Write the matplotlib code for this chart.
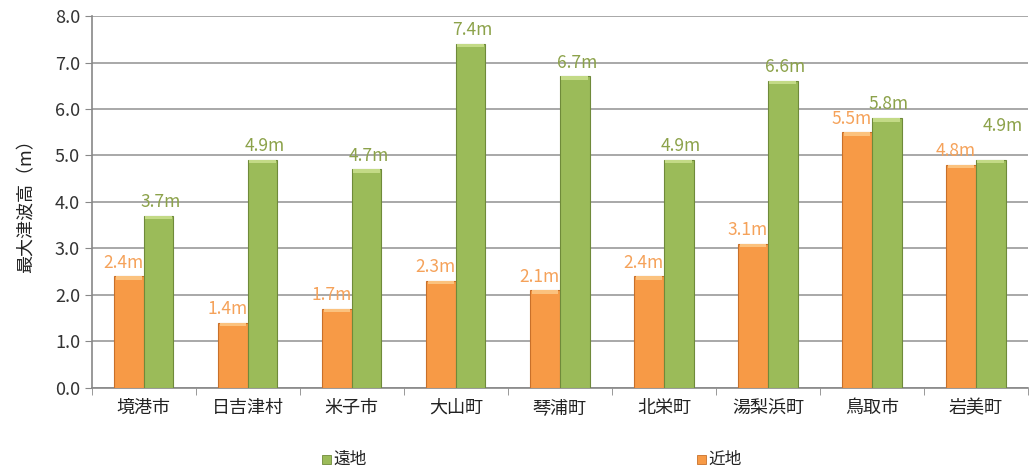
import matplotlib
matplotlib.use("Agg")
import matplotlib.pyplot as plt
import numpy as np
from matplotlib.patches import Rectangle

plt.rcParams['font.family'] = ['Noto Sans CJK JP', 'DejaVu Sans']

categories = ['境港市', '日吉津村', '米子市', '大山町', '琴浦町', '北栄町', '湯梨浜町', '鳥取市', '岩美町']
near = [2.4, 1.4, 1.7, 2.3, 2.1, 2.4, 3.1, 5.5, 4.8]   # 近地
far = [3.7, 4.9, 4.7, 7.4, 6.7, 4.9, 6.6, 5.8, 4.9]    # 遠地
yticks = [0.0, 1.0, 2.0, 3.0, 4.0, 5.0, 6.0, 7.0, 8.0]

c_near = '#F79A46'
c_far = '#9BBB59'
c_near_edge = '#C8702A'
c_far_edge = '#6F8A3A'
c_near_txt = '#F5A25A'
c_far_txt = '#8CA24A'

fig = plt.figure(figsize=(10.32, 4.73), dpi=100)
ax = fig.add_axes([0.089, 0.18, 0.907, 0.786])

x = np.arange(len(categories))
w = 0.285
ax.bar(x - w/2, near, width=w, color=c_near, edgecolor=c_near_edge, linewidth=0.8, zorder=3)
ax.bar(x + w/2, far, width=w, color=c_far, edgecolor=c_far_edge, linewidth=0.8, zorder=3)
# light top bevel
ax.bar(x - w/2, [0.07] * len(near), bottom=np.array(near) - 0.07, width=w * 0.9,
       color='#FBC27E', linewidth=0, zorder=4)
ax.bar(x + w/2, [0.07] * len(far), bottom=np.array(far) - 0.07, width=w * 0.9,
       color='#C3DA86', linewidth=0, zorder=4)

# label layout tweaks (x shift, y offset) for the last group
far_dx = [0.02] * 8 + [0.12]
far_dy = [0.1] * 7 + [0.12, 0.55]

for i in range(len(categories)):
    ax.text(x[i] - w/2 - 0.05, near[i] + 0.1, f'{near[i]}m', color=c_near_txt,
            ha='center', va='bottom', fontsize=12.5, zorder=5)
    ax.text(x[i] + w/2 + far_dx[i], far[i] + far_dy[i], f'{far[i]}m', color=c_far_txt,
            ha='center', va='bottom', fontsize=12.5, zorder=5)

ax.set_xlim(-0.5, len(categories) - 0.5)
ax.set_ylim(0, 8.0)
ax.set_yticks(yticks)
ax.set_yticklabels([f'{v:.1f}' for v in yticks], fontsize=13, color='#333333')
ax.yaxis.grid(True, color='#9a9a9a', linewidth=1.2, zorder=0)
ax.set_axisbelow(True)

ax.set_xticks(x)
ax.set_xticklabels(categories, fontsize=13, color='#222222')
ax.tick_params(axis='x', length=0, pad=8)
ax.set_xticks(np.arange(-0.5, len(categories)), minor=True)
ax.tick_params(axis='x', which='minor', length=5, color='#888888')
ax.tick_params(axis='y', length=5, color='#888888')

for s in ['top', 'right']:
    ax.spines[s].set_visible(False)
ax.spines['left'].set_color('#888888')
ax.spines['bottom'].set_color('#888888')
ax.spines['left'].set_linewidth(1.2)
ax.spines['bottom'].set_linewidth(1.2)

ax.set_ylabel('最大津波高（m）', fontsize=13, color='#222222', labelpad=14)

# legend
fig.patches.append(Rectangle((0.312, 0.018), 0.009, 0.02, transform=fig.transFigure,
                             facecolor=c_far, edgecolor=c_far_edge, lw=0.6))
fig.text(0.323, 0.028, '遠地', fontsize=12, va='center', ha='left', color='#222222')
fig.patches.append(Rectangle((0.675, 0.018), 0.009, 0.02, transform=fig.transFigure,
                             facecolor=c_near, edgecolor=c_near_edge, lw=0.6))
fig.text(0.686, 0.028, '近地', fontsize=12, va='center', ha='left', color='#222222')

fig.savefig('out.png', dpi=100)
